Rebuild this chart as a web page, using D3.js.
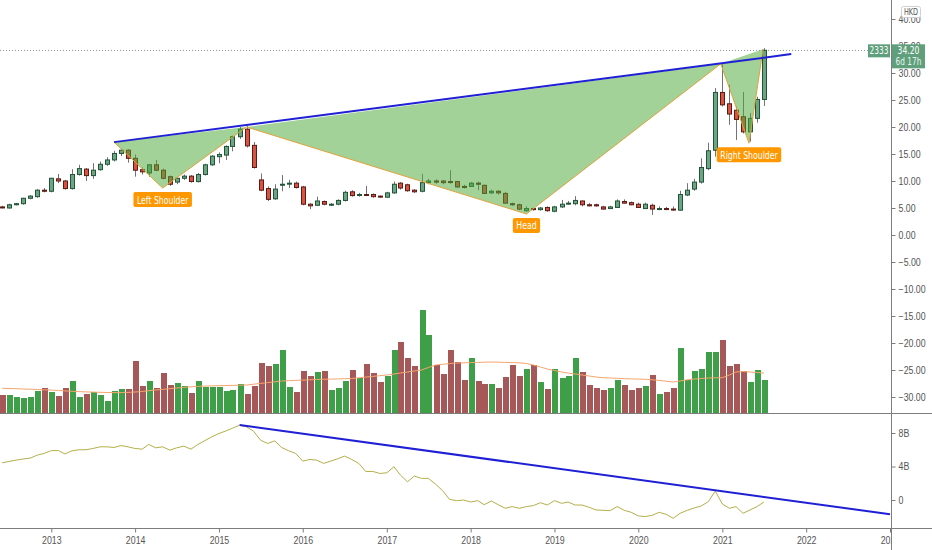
<!DOCTYPE html>
<html><head><meta charset="utf-8">
<script src="https://cdn.jsdelivr.net/npm/d3@7"></script>
<style>
body{margin:0;background:#fff;}
svg{display:block;font-family:"Liberation Sans Narrow","DejaVu Sans Condensed","Liberation Sans",sans-serif;}
</style>
</head><body>
<svg id="chart" width="932" height="550"></svg>
<script>
// ---------- DATA (monthly bars, Jun 2012 .. Jul 2021) ----------
const firstMonth = "2012-06-01";
const lastMonth  = "2021-07-01";
const opens = [
 5.2,5.0,5.6,5.8,6.8,7.1,8.3,
 8.1,10.4,10.0,8.6,11.2,12.2,11.0,12.1,13.1,13.9,15.1,15.7,
 14.2,12.1,11.5,13.0,12.0,10.8,9.8,10.5,10.9,9.9,11.2,13.0,
 14.5,14.8,16.4,18.2,19.6,16.6,10.2,8.6,6.7,9.3,9.5,9.6,
 8.9,5.7,5.5,6.2,5.6,5.7,6.4,8.0,7.4,7.5,7.5,7.2,
 7.0,7.8,9.6,9.3,8.3,8.1,9.7,10.0,10.0,9.9,9.9,9.0,
 9.0,9.6,9.2,7.8,8.1,7.7,5.8,5.6,4.5,4.9,4.7,5.1,
 4.4,5.2,5.8,5.8,6.3,5.6,5.6,5.2,4.9,5.1,6.2,6.0,
 5.7,4.9,5.5,4.85,4.9,4.8,4.6,7.4,8.5,9.8,12.3,15.7,
 26.4,24.3,23.1,21.9,19.1,21.6,25.1
];
const highs = [
 5.4,5.8,5.9,6.9,7.4,8.5,8.7,
 10.6,11.3,10.2,12.2,13.0,12.4,13.3,13.6,14.4,15.6,16.0,15.9,
 14.9,12.5,13.1,13.9,12.3,11.0,10.7,11.2,11.1,11.5,13.2,14.8,
 15.3,16.6,18.4,20.0,20.2,17.2,11.4,9.0,9.4,11.1,10.2,9.9,
 9.1,5.9,7.1,6.4,5.9,6.6,8.2,8.3,7.8,9.1,7.7,7.3,
 8.0,9.9,9.8,9.5,8.5,11.3,10.4,10.3,10.2,12.0,10.0,9.3,
 9.8,9.9,9.3,8.4,8.3,8.0,6.0,5.8,5.3,5.0,5.2,5.3,
 5.4,6.5,6.3,7.2,6.4,5.9,5.8,5.4,5.4,6.6,6.6,6.2,
 6.0,6.0,5.8,5.3,5.2,5.3,8.2,9.6,10.4,14.2,17.1,27.2,
 31.6,27.8,23.8,26.5,22.6,25.6,34.6
];
const lows = [
 4.9,4.9,5.5,5.6,6.6,6.9,7.9,
 7.9,9.6,8.4,8.4,11.0,10.0,10.4,11.9,12.8,13.6,14.6,13.4,
 10.8,11.2,10.8,11.8,10.3,9.1,9.4,10.2,9.7,9.7,11.0,12.8,
 13.3,13.9,15.5,17.8,16.2,12.3,8.1,6.3,6.5,8.1,8.7,8.6,
 5.5,4.8,5.4,5.5,5.4,5.5,6.2,7.1,7.1,7.2,6.9,6.9,
 6.9,7.6,8.4,8.0,7.8,7.9,9.4,9.5,9.4,9.5,8.7,8.6,
 8.9,8.3,7.6,7.6,7.5,5.8,5.4,4.6,4.3,4.5,4.5,4.3,
 4.2,5.0,5.6,5.5,5.3,5.3,5.2,4.7,4.8,5.0,5.8,5.5,
 5.0,4.8,3.7,4.6,4.6,4.5,4.5,7.2,8.2,9.5,12.0,14.5,
 23.8,20.4,17.6,18.8,17.3,20.8,23.9
];
const closes = [
 5.1,5.6,5.8,6.8,7.2,8.3,8.1,
 10.5,10.0,8.6,11.2,12.3,11.0,12.0,13.1,13.9,15.1,15.7,14.2,
 12.0,11.7,13.0,12.0,10.5,9.4,10.5,10.9,9.9,11.2,13.0,14.6,
 14.9,16.4,18.2,19.6,16.5,12.5,8.3,6.6,8.5,9.4,9.6,8.8,
 5.7,5.4,6.3,5.7,5.7,6.4,7.9,7.3,7.5,7.4,7.1,7.1,
 7.8,9.4,8.7,8.2,8.0,9.7,10.0,9.8,9.7,9.8,8.9,8.8,
 9.6,9.4,7.7,8.1,7.8,5.9,5.6,4.8,4.9,4.7,5.0,4.5,
 5.2,5.7,5.9,6.4,5.6,5.4,5.4,4.8,5.2,6.3,5.9,5.6,
 5.1,5.7,4.8,4.9,4.8,4.7,7.5,8.3,9.8,12.5,15.6,26.4,
 24.1,22.4,21.4,19.1,21.6,25.1,34.2
];
const volumes = [ // millions
 17.7,17.7,16.3,14.7,16.3,22.3,25.3,
 20.7,17,25.3,32.3,16.3,19.3,21,18.3,12.3,22.3,24,24,
 52.3,27,31.7,25.3,40.3,27.7,30,27.3,20.3,31.7,26,26,
 26,21.7,23.3,29.3,18.7,27.3,50.3,46.7,48.7,62.7,26.3,21,
 41.7,37,41,42.3,22.7,25.3,31.7,43.3,35.3,48.7,40.3,31,
 36.7,62.7,71,55.3,47,102.7,77.7,48.3,39.3,63.3,50.7,32.7,
 55.3,31.7,28.7,28.7,25,35.7,48.3,37.3,43.7,48.3,31,24.3,
 44.3,35,36.7,55.3,41.3,28,25,23.3,24.7,33.3,28,23.3,
 25.3,27,38,19.3,21,25.3,65,33.3,42,44.3,60.7,60.7,
 72.7,47.3,48.7,41.7,31,42.7,33.3
];
const volumeMA = [
 24.7,24.5,24.3,24.0,23.8,23.5,23.2,
 22.9,22.5,22.1,21.7,21.4,21.1,20.9,20.7,20.5,20.4,20.4,20.6,
 21.0,21.5,22.3,23.0,23.6,24.3,25.0,25.6,26.2,26.6,26.9,27.1,
 27.3,27.5,27.6,27.8,28.0,28.8,29.6,30.4,31.2,32.0,32.3,32.6,
 32.9,33.2,33.5,33.7,33.9,34.1,34.3,34.5,35.2,35.9,36.6,37.3,
 38.0,39.0,40.0,41.0,42.0,43.0,45.5,48.0,48.7,49.4,50.0,50.2,
 50.4,50.6,50.8,51.0,50.8,50.6,50.4,50.2,49.5,48.0,46.0,44.0,
 42.5,41.0,40.0,39.0,38.0,37.0,36.0,35.3,35.0,34.7,34.4,34.1,
 33.9,33.7,33.2,32.6,31.8,31.0,32.0,33.2,34.0,34.5,35.0,35.2,
 35.3,38.0,41.0,41.5,41.0,40.5,40.0
];
const obv = [ // billions
 4.44,4.6,4.76,4.9,5.0,5.36,5.56,
 5.9,5.9,5.5,5.87,6.0,6.0,6.15,6.35,6.35,6.27,6.5,6.35,
 6.15,6.07,6.63,6.23,6.35,5.95,6.23,6.43,6.07,6.63,7.1,7.54,
 7.94,8.25,8.57,8.93,8.73,8.21,7.14,6.75,7.06,6.27,5.87,5.56,
 4.64,4.84,4.76,4.37,4.64,4.92,5.24,4.84,4.37,3.41,3.41,3.17,
 3.25,3.97,2.98,2.18,2.86,2.58,2.58,1.9,1.11,0.08,-0.08,0.0,
 -0.24,-0.08,-0.56,-0.12,-0.56,-0.99,-0.79,-0.99,-0.79,-0.67,-0.32,-0.6,
 -0.08,-0.4,-0.24,-0.6,-0.6,-0.87,-1.19,-1.23,-1.27,-0.79,-1.23,-1.47,
 -1.9,-1.98,-1.83,-1.47,-1.71,-2.18,-1.59,-1.23,-0.95,-0.71,-0.2,1.07,
 -0.48,-0.99,-0.79,-1.59,-1.19,-0.79,-0.24
];
const priceTicks = [40,35,30,25,20,15,10,5,0,-5,-10,-15,-20,-25,-30];
const obvTicks = [0,4,8];
// head & shoulders drawing
const patternDates  = ["2013-10-01","2014-05-01","2015-05-01","2018-09-01","2020-12-25","2021-04-27","2021-06-27"];
const patternPrices = [17.2, 8.7, 20.0, 3.9, 31.7, 17.0, 34.4];
const patternLabels = [{i:1,text:"Left Shoulder"},{i:3,text:"Head"},{i:5,text:"Right Shoulder"}];
const necklineDates = ["2013-10-01","2021-10-28"];
const necklinePrices = [17.2, 33.5];
const obvTrendDates = ["2015-04-01","2023-01-01"];
const obvTrendValues = [8.95, -1.7];
const lastPrice = 34.20, symbol = "2333", countdown = "6d 17h", currency = "HKD";

// ---------- CHART ----------
const svg = d3.select("#chart");
const W = 932, H = 550, axisX = 891, sepY = 413, timeY = 528;
const P = s => new Date(s + "T00:00:00Z");
const months = d3.utcMonth.range(P(firstMonth), d3.utcMonth.offset(P(lastMonth), 1));
const bars = months.map((d,i)=>({d, o:opens[i], h:highs[i], l:lows[i], c:closes[i], v:volumes[i], ma:volumeMA[i], obv:obv[i]}));

const x  = d3.scaleUtc().domain([P("2013-01-01"), P("2023-01-01")]).range([51.3, 890]);
const y  = d3.scaleLinear().domain([0, 40]).range([235, 19]);
const yv = d3.scaleLinear().domain([0, 100]).range([sepY, sepY - 100]);
const yo = d3.scaleLinear().domain([0, 8]).range([500, 433]);

// narrow the glyphs to resemble the reference's condensed UI font; returns new width
function squeeze(sel, k){
  let out = 0;
  sel.each(function(){ const n=this; const w=n.getComputedTextLength(); if(w>0){ n.setAttribute("textLength", w*k); n.setAttribute("lengthAdjust","spacingAndGlyphs"); out = w*k; } });
  return out;
}

const defs = svg.append("defs");
defs.append("clipPath").attr("id","cm").append("rect").attr("x",0).attr("y",0).attr("width",axisX).attr("height",sepY);
defs.append("clipPath").attr("id","cb").append("rect").attr("x",0).attr("y",sepY).attr("width",axisX).attr("height",timeY-sepY);
defs.append("clipPath").attr("id","ct").append("rect").attr("x",0).attr("y",timeY).attr("width",axisX).attr("height",H-timeY);

const main = svg.append("g").attr("clip-path","url(#cm)");
const cx = d => Math.round(x(d));

// volume
main.append("g").selectAll("rect").data(bars).join("rect")
  .attr("x", b => cx(b.d) - 2.5).attr("width", 6)
  .attr("y", b => yv(b.v)).attr("height", b => sepY - yv(b.v))
  .attr("fill", b => b.c >= b.o ? "#3f9f48" : "#a65858")
  .attr("shape-rendering","crispEdges");
main.append("path").datum(bars)
  .attr("d", d3.line().x(b => x(b.d)).y(b => yv(b.ma)))
  .attr("fill","none").attr("stroke","#f6a56e").attr("stroke-width",1);

// price line
main.append("line").attr("x1",0).attr("x2",axisX).attr("y1",Math.round(y(lastPrice))+0.5).attr("y2",Math.round(y(lastPrice))+0.5)
  .attr("stroke","#8e9aa0").attr("stroke-dasharray","1,2");

// candles
const cg = main.append("g");
cg.selectAll("line").data(bars).join("line")
  .attr("x1", b => cx(b.d)+0.5).attr("x2", b => cx(b.d)+0.5)
  .attr("y1", b => y(b.h)).attr("y2", b => y(b.l))
  .attr("stroke","#737375").attr("stroke-width",1);
cg.selectAll("rect").data(bars).join("rect")
  .attr("x", b => cx(b.d)-1.5).attr("width",4)
  .attr("y", b => y(Math.max(b.o,b.c)))
  .attr("height", b => Math.max(1, Math.abs(y(b.o)-y(b.c))))
  .attr("fill", b => b.c >= b.o ? "#6ba583" : "#d75442")
  .attr("stroke", b => b.c >= b.o ? "#225437" : "#5b1a13").attr("stroke-width",1);

// head & shoulders pattern
const pts = patternDates.map((d,i)=>[x(P(d)), y(patternPrices[i])]);
[[0,1,2],[2,3,4],[4,5,6]].forEach(t=>{
  main.append("path").attr("d", d3.line()(t.map(k=>pts[k])) + "Z")
    .attr("fill","rgba(76,168,58,0.52)").attr("stroke","none");
});
main.append("path").attr("d", d3.line()(pts)).attr("fill","none").attr("stroke","#e0a23a").attr("stroke-width",1);
main.append("path").attr("d", d3.line()(necklineDates.map((d,i)=>[x(P(d)), y(necklinePrices[i])])))
  .attr("stroke","#1f1fd6").attr("stroke-width",2).attr("fill","none");
patternLabels.forEach(L=>{
  const [px,py] = pts[L.i];
  const g = main.append("g");
  const t = g.append("text").attr("x",px).attr("y",py+15.5).attr("text-anchor","middle")
    .attr("font-size",10.5).attr("fill","#fff").text(L.text);
  const w = squeeze(t, 0.82) + 7;
  g.insert("rect","text").attr("x",px-w/2).attr("y",py+4).attr("width",w).attr("height",15).attr("rx",2).attr("fill","#ff9800");
});

// lower pane: OBV
const low = svg.append("g").attr("clip-path","url(#cb)");
low.append("path").datum(bars).attr("d", d3.line().x(b=>x(b.d)).y(b=>yo(b.obv)))
  .attr("fill","none").attr("stroke","#b3b04a").attr("stroke-width",1);
low.append("path").attr("d", d3.line()(obvTrendDates.map((d,i)=>[x(P(d)), yo(obvTrendValues[i])])))
  .attr("stroke","#1f1fd6").attr("stroke-width",2).attr("fill","none");

// frame lines
const lc = "#7d7d7d";
svg.append("line").attr("x1",axisX+0.5).attr("x2",axisX+0.5).attr("y1",0).attr("y2",H).attr("stroke",lc);
svg.append("line").attr("x1",0).attr("x2",W).attr("y1",sepY+0.5).attr("y2",sepY+0.5).attr("stroke",lc);
svg.append("line").attr("x1",0).attr("x2",W).attr("y1",timeY+0.5).attr("y2",timeY+0.5).attr("stroke",lc);

// axes
function styleAxis(g){
  g.select(".domain").remove();
  g.selectAll(".tick line").attr("stroke",lc);
  g.selectAll(".tick text").attr("fill","#555").attr("font-size",10).attr("font-family",null);
  squeeze(g.selectAll(".tick text"), 0.88);
}
svg.append("g").attr("transform",`translate(${axisX+0.5},0)`)
  .call(d3.axisRight(y).tickValues(priceTicks).tickFormat(d3.format(".2f")).tickSize(4).tickPadding(3))
  .call(styleAxis);
svg.append("g").attr("transform",`translate(${axisX+0.5},0)`)
  .call(d3.axisRight(yo).tickValues(obvTicks).tickFormat(v => v===0 ? "0" : v+"B").tickSize(4).tickPadding(3))
  .call(styleAxis);
svg.append("g").attr("clip-path","url(#ct)").append("g").attr("transform",`translate(0,${timeY+0.5})`)
  .call(d3.axisBottom(x).ticks(d3.utcYear.every(1)).tickFormat(d3.utcFormat("%Y")).tickSize(4).tickPadding(4))
  .call(styleAxis);

// last price labels
const ly = y(lastPrice);
svg.append("rect").attr("x",868).attr("y",ly-6).attr("width",22).attr("height",13).attr("fill","#5f9f7b");
squeeze(svg.append("text").attr("x",879).attr("y",ly+4).attr("text-anchor","middle").attr("font-size",10).attr("fill","#fff").text(symbol), 0.82);
svg.append("rect").attr("x",892).attr("y",ly-6).attr("width",33).attr("height",24).attr("fill","#5f9f7b");
squeeze(svg.append("text").attr("x",908.5).attr("y",ly+4).attr("text-anchor","middle").attr("font-size",10).attr("fill","#fff").text(lastPrice.toFixed(2)), 0.85);
squeeze(svg.append("text").attr("x",908.5).attr("y",ly+15).attr("text-anchor","middle").attr("font-size",10).attr("fill","#e8f3ec").text(countdown), 0.82);
svg.append("rect").attr("x",901.5).attr("y",6.5).attr("width",19).attr("height",11).attr("rx",2).attr("fill","#fff").attr("stroke","#d0d0d0");
squeeze(svg.append("text").attr("x",911).attr("y",15).attr("text-anchor","middle").attr("font-size",8.5).attr("fill","#555").text(currency), 0.85);
</script>
</body></html>
